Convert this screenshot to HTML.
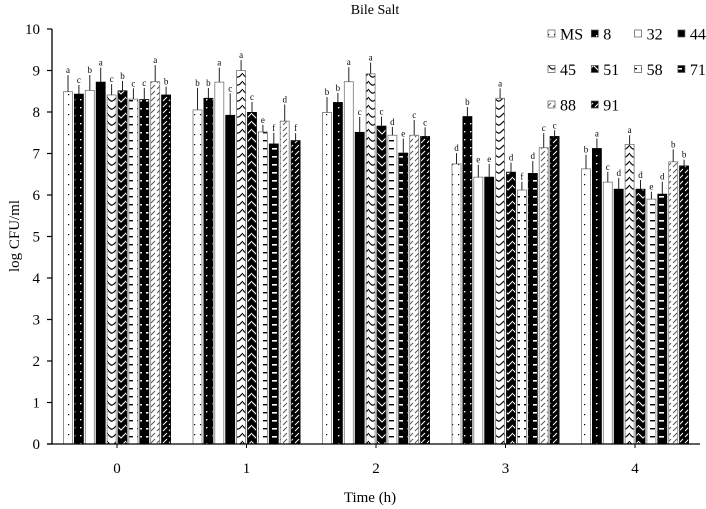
<!DOCTYPE html>
<html><head><meta charset="utf-8">
<style>
html,body{margin:0;padding:0;background:#fff;}
svg{display:block;font-family:"Liberation Serif","Times New Roman",serif;}
</style></head>
<body>
<svg id="chart" width="706" height="509" viewBox="0 0 706 509" xmlns="http://www.w3.org/2000/svg">
<defs>
  <pattern id="p0" width="6" height="10" patternUnits="userSpaceOnUse"><rect width="6" height="10" fill="#fff"/><rect x="2" y="4" width="1.2" height="1.2" fill="#000"/></pattern>
  <pattern id="p1" width="6" height="8" patternUnits="userSpaceOnUse"><rect width="6" height="8" fill="#000"/><rect x="2" y="3" width="1.4" height="1.4" fill="#fff"/></pattern>
  <pattern id="p2" width="6" height="6" patternUnits="userSpaceOnUse"><rect width="6" height="6" fill="#fff"/></pattern>
  <pattern id="p3" width="6" height="6" patternUnits="userSpaceOnUse"><rect width="6" height="6" fill="#000"/></pattern>
  <pattern id="p4" width="9" height="8" patternUnits="userSpaceOnUse"><rect width="9" height="8" fill="#fff"/><path d="M0,2 Q3,7 6,4 L9,1" stroke="#000" stroke-width="1.2" fill="none"/></pattern>
  <pattern id="p5" width="9" height="8" patternUnits="userSpaceOnUse"><rect width="9" height="8" fill="#000"/><path d="M0,2 L4,6 L9,1" stroke="#fff" stroke-width="1.1" fill="none"/></pattern>
  <pattern id="p6" width="9" height="8" patternUnits="userSpaceOnUse"><rect width="9" height="8" fill="#fff"/><rect x="2" y="4" width="5" height="1.4" fill="#000"/></pattern>
  <pattern id="p7" width="9" height="8" patternUnits="userSpaceOnUse"><rect width="9" height="8" fill="#000"/><rect x="2" y="4" width="5" height="1.6" fill="#fff"/></pattern>
  <pattern id="p8" width="6" height="6" patternUnits="userSpaceOnUse"><rect width="6" height="6" fill="#fff"/><path d="M1,5 L5,1" stroke="#555" stroke-width="1"/></pattern>
  <pattern id="p9" width="6" height="6" patternUnits="userSpaceOnUse"><rect width="6" height="6" fill="#000"/><path d="M1,5 L5,1" stroke="#fff" stroke-width="1"/></pattern>
</defs>
<g id="plot"></g>
</svg>
<script>
const categories = ["0","1","2","3","4"];
const seriesNames = ["MS","8","32","44","45","51","58","71","88","91"];
const yTicks = [0,1,2,3,4,5,6,7,8,9,10];
const valMS = [8.49,8.05,7.99,6.75,6.63];
const val8  = [8.43,8.33,8.23,7.89,7.12];
const val32 = [8.52,8.72,8.73,6.43,6.31];
const val44 = [8.72,7.92,7.51,6.43,6.14];
const val45 = [8.41,9.00,8.92,8.33,7.22];
const val51 = [8.51,7.99,7.66,6.55,6.14];
const val58 = [8.31,7.52,7.44,6.12,5.90];
const val71 = [8.30,7.23,7.01,6.52,6.02];
const val88 = [8.73,7.78,7.44,7.14,6.80];
const val91 = [8.41,7.31,7.41,7.41,6.70];
const errMS = [0.40,0.53,0.37,0.26,0.34];
const err8  = [0.22,0.25,0.23,0.23,0.24];
const err32 = [0.37,0.35,0.35,0.30,0.25];
const err44 = [0.35,0.53,0.37,0.32,0.27];
const err45 = [0.26,0.25,0.27,0.24,0.22];
const err51 = [0.24,0.25,0.23,0.23,0.22];
const err58 = [0.26,0.17,0.20,0.20,0.18];
const err71 = [0.28,0.27,0.35,0.30,0.30];
const err88 = [0.40,0.40,0.37,0.35,0.30];
const err91 = [0.20,0.18,0.22,0.15,0.15];
const letters0 = ["a","c","b","a","c","b","c","c","a","b"];
const letters1 = ["b","b","a","c","a","c","e","f","d","f"];
const letters2 = ["b","b","a","c","a","c","d","e","c","c"];
const letters3 = ["d","b","e","e","a","d","f","d","c","c"];
const letters4 = ["b","a","c","d","a","d","e","d","b","b"];

const values=[valMS,val8,val32,val44,val45,val51,val58,val71,val88,val91];
const errs=[errMS,err8,err32,err44,err45,err51,err58,err71,err88,err91];
const letters=[letters0,letters1,letters2,letters3,letters4];
const NS="http://www.w3.org/2000/svg";
const g=document.getElementById('plot');
function mk(t,a,txt){const e=document.createElementNS(NS,t);for(const k in a)e.setAttribute(k,a[k]);if(txt!==undefined)e.textContent=txt;g.appendChild(e);return e;}
const x0=52,x1=700,yBase=444,yPer=41.5;
function y(v){return yBase-v*yPer;}
function xc(i){return 117+i*129.5;}
const pitch=10.9,bw=9;
function xb(i,s){return xc(i)-5*pitch+s*pitch+1;}

for(let i=0;i<categories.length;i++){
  for(let s=0;s<seriesNames.length;s++){
    const v=values[s][i],e=errs[s][i],bx=xb(i,s);
    const r=mk('rect',{x:bx,y:y(v),width:bw,height:yBase-y(v),fill:'url(#p'+s+')',stroke:(s%2?'#000':'#777'),'stroke-width':0.8});
    
    
    const l=mk('line',{x1:bx+bw/2,x2:bx+bw/2,y1:y(v),y2:y(v+e),stroke:'#222','stroke-width':1});
    
    
    const t=mk('text',{x:bx+bw/2,y:y(v+e)-2,'font-size':9,'text-anchor':'middle',fill:'#000'},letters[i][s]);
    
    
  }
  const tk=mk('line',{x1:xc(i),x2:xc(i),y1:yBase,y2:yBase+4,stroke:'#000','stroke-width':1});
  
  
  const tl=mk('text',{x:xc(i),y:yBase+29,'font-size':15,'text-anchor':'middle'},categories[i]);
  
  
}
for(const v of yTicks){
  const tk=mk('line',{x1:x0-5,x2:x0,y1:y(v),y2:y(v),stroke:'#000','stroke-width':1.2});
  
  
  const tl=mk('text',{x:x0-12,y:y(v)+5,'font-size':15,'text-anchor':'end'},String(v));
  
  
}
const ya=mk('line',{x1:x0,x2:x0,y1:y(10),y2:yBase,stroke:'#000','stroke-width':1.3});


const xa=mk('line',{x1:47,x2:x1,y1:yBase,y2:yBase,stroke:'#000','stroke-width':1.3});


const title=mk('text',{x:375,y:14,'font-size':14,'text-anchor':'middle'},'Bile Salt');


const xt=mk('text',{x:370,y:502,'font-size':15,'text-anchor':'middle'},'Time (h)');


const yt=mk('text',{x:0,y:0,'font-size':15,'text-anchor':'middle',transform:'translate(19,236) rotate(-90)'},'log CFU/ml');


for(let s=0;s<seriesNames.length;s++){
  const col=s%4,row=Math.floor(s/4);
  const lx=548+col*43.3,ly=34+row*35.5;
  const sw=mk('rect',{x:lx,y:ly-4,width:7,height:7,fill:'url(#p'+s+')',stroke:'#555','stroke-width':0.7});
  
  
  const lt=mk('text',{x:lx+12,y:ly+5.5,'font-size':16},seriesNames[s]);
  
  
}
</script>
</body></html>
